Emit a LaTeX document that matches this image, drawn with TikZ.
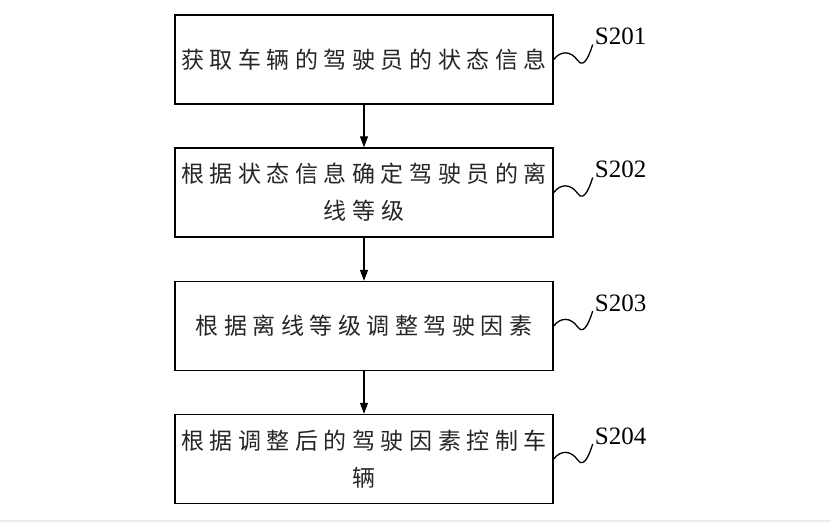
\documentclass[tikz,border=0pt]{standalone}
\usepackage{fontspec}
\setmainfont{Liberation Serif}
\newfontfamily\cjk[LetterSpace=24]{Noto Sans CJK SC}
\usetikzlibrary{arrows.meta}
\definecolor{stripcol}{RGB}{229,236,243}
\tikzset{
  stepbox/.style={draw=black, line width=1.4pt, minimum width=378pt, minimum height=89pt,
    inner sep=0pt, align=center, font=\cjk\fontsize{23}{37}\selectfont, text=black!85},
  flow/.style={line width=1.2pt, -{Triangle[length=11pt,width=8pt]}},
  squig/.style={line width=1.3pt},
  steplabel/.style={anchor=west, inner sep=0pt, font=\fontsize{25}{25}\selectfont}
}
\begin{document}
\begin{tikzpicture}[x=1pt,y=-1pt]
\useasboundingbox (0,0) rectangle (831,522);
\fill[white] (0,0) rectangle (831,522);
\fill[stripcol] (0,520) rectangle (831,522);

\node[stepbox] (b1) at (364,59.5) {获取车辆的驾驶员的状态信息};
\node[stepbox] (b2) at (364,192.5) {根据状态信息确定驾驶员的离\\线等级};
\node[stepbox] (b3) at (364,326) {根据离线等级调整驾驶因素};
\node[stepbox] (b4) at (364,459) {根据调整后的驾驶因素控制车\\辆};

\draw[flow] (b1.south) -- (b2.north);
\draw[flow] (b2.south) -- (b3.north);
\draw[flow] (b3.south) -- (b4.north);

\foreach \b/\lab in {b1/S201, b2/S202, b3/S203, b4/S204}{
  \draw[squig] (\b.east) .. controls +(7,-9) and +(-7,-10) .. ++(24,1)
     coordinate (\b-mid) .. controls +(7,10) and +(-2,6) .. ++(15,-16) coordinate (\b-end);
  \node[steplabel] (\b-lab) at ([xshift=2pt,yshift=8pt]\b-end) {\lab};
}
\end{tikzpicture}
\end{document}
